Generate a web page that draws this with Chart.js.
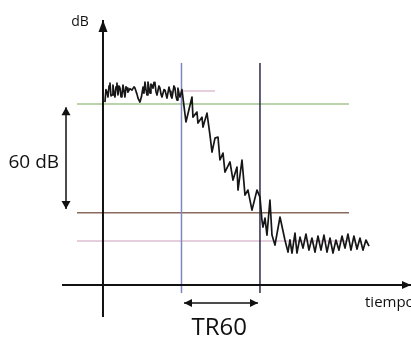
<!DOCTYPE html>
<html><head><meta charset="utf-8">
<style>html,body{margin:0;padding:0;background:#fff;overflow:hidden}#wrap{position:relative;width:411px;height:341px}</style>
<script src="https://cdn.jsdelivr.net/npm/chart.js@4.4.1/dist/chart.umd.min.js"></script>
</head><body><div id="wrap"><canvas id="c" width="411" height="341"></canvas></div>
<script>
// ---- data (time in s, level in dB) ----
const signalTime = [0.025,0.038,0.051,0.064,0.077,0.089,0.102,0.115,0.127,0.140,0.153,0.166,0.178,0.191,0.204,0.217,0.230,0.242,0.255,0.268,0.280,0.293,0.306,0.318,0.344,0.369,0.395,0.408,0.433,0.446,0.471,0.490,0.510,0.522,0.535,0.548,0.561,0.573,0.586,0.599,0.611,0.624,0.637,0.650,0.662,0.675,0.688,0.713,0.726,0.739,0.752,0.777,0.790,0.815,0.841,0.854,0.866,0.879,0.904,0.917,0.930,0.943,0.955,0.968,0.981,1.006,
  1.057,1.134,1.146,1.197,1.210,1.261,1.274,1.325,1.363,1.389,1.427,1.465,1.490,1.529,1.554,1.618,1.656,1.707,1.720,1.771,1.809,1.847,1.898,1.962,2.000,2.025,
  2.038,2.064,2.089,2.127,2.153,2.191,2.255,2.318,2.357,2.382,2.408,2.446,2.471,2.510,2.548,2.586,2.624,2.662,2.701,2.739,2.777,2.815,2.854,2.892,2.930,2.968,3.006,3.045,3.083,3.121,3.159,3.197,3.236,3.274,3.312,3.350,3.389];
const signalLevel = [101.1,108.0,106.6,103.9,110.0,111.6,104.5,105.0,110.5,106.0,103.9,109.5,111.6,105.0,110.0,108.8,104.0,105.0,110.5,107.0,103.9,109.5,108.8,106.6,108.5,107.7,109.5,108.8,105.5,103.3,101.1,104.0,109.4,106.0,112.2,108.0,105.0,112.2,109.0,106.1,111.0,110.5,108.8,112.0,111.6,107.0,105.0,110.0,108.8,105.5,103.9,108.0,107.7,103.3,109.4,107.0,104.5,103.3,110.0,108.8,104.5,102.2,108.8,106.0,103.9,108.0,
  90.1,103.9,92.8,95.6,89.5,92.8,87.3,95.0,82.9,73.5,81.2,81.8,69.1,72.9,62.4,68.0,58.0,65.2,52.5,69.1,49.7,52.5,41.4,52.5,48.6,35.9,
  32.0,37.0,27.6,47.0,27.6,22.1,37.6,24.9,18.2,25.0,17.7,28.7,17.7,26.5,20.4,28.2,19.3,26.0,18.2,27.1,19.3,27.6,18.2,26.0,17.7,24.9,19.3,27.1,20.4,28.2,19.3,27.1,19.9,26.0,19.3,24.9,21.5];
const refLevels = [100, 40, 24.3];          // start level, -60 dB level, noise level
const refTimes = [-0.331, 3.134];
const startMarkLevel = 107.2;
const startMarkTimes = [1.0, 1.427];
const decayTimes = [1.0, 2.0];              // start and end of TR60
const decayMarkLevels = [-4.4, 122.7];
const axisTimes = [-0.522, 3.924];
const axisLevels = [-17.7, 146.4];
const spanArrowTime = -0.471;
const spanArrowLevels = [98.3, 42.0];
const trArrowLevel = -9.9;
const trArrowTimes = [1.032, 1.975];
const labelTexts = ['dB', '60 dB', 'tiempo', 'TR60'];

// ---- datasets ----
const pts = (xs, ys) => xs.map((x, i) => ({x, y: ys[i]}));
const refColors = ['#a3c48e', '#8a6a5c', '#dcbfd2'];
const datasets = [];
refLevels.forEach((lv, i) => datasets.push({data: pts(refTimes, [lv, lv]), borderColor: refColors[i], borderWidth: 1.5, order: 5}));
datasets.push({data: pts(startMarkTimes, [startMarkLevel, startMarkLevel]), borderColor: '#dcbfd2', borderWidth: 1.5, order: 5});
datasets.push({data: pts([decayTimes[0], decayTimes[0]], decayMarkLevels), borderColor: '#7f86c4', borderWidth: 1.5, order: 4});
datasets.push({data: pts([decayTimes[1], decayTimes[1]], decayMarkLevels), borderColor: '#2a2c48', borderWidth: 1.5, order: 4});
datasets.push({data: pts(signalTime, signalLevel), borderColor: '#161616', borderWidth: 1.7, borderJoinStyle: 'round', order: 2});
datasets.push({data: pts(axisTimes, [0, 0]), borderColor: '#111', borderWidth: 2, order: 1, arrow: {end: true, len: 9, w: 8}});
datasets.push({data: pts([0, 0], axisLevels), borderColor: '#111', borderWidth: 2, order: 1, arrow: {end: true, len: 12, w: 9}});
datasets.push({data: pts([spanArrowTime, spanArrowTime], spanArrowLevels), borderColor: '#111', borderWidth: 1.5, order: 1, arrow: {start: true, end: true, len: 8, w: 9}});
datasets.push({data: pts(trArrowTimes, [trArrowLevel, trArrowLevel]), borderColor: '#111', borderWidth: 1.5, order: 1, arrow: {start: true, end: true, len: 8, w: 8}});
datasets.forEach(d => { d.pointRadius = 0; d.tension = 0; d.fill = false; d.showLine = true; });

function head(ctx, tip, from, len, w, color) {
  const a = Math.atan2(tip.y - from.y, tip.x - from.x);
  ctx.save(); ctx.fillStyle = color; ctx.beginPath();
  ctx.moveTo(tip.x, tip.y);
  ctx.lineTo(tip.x - len * Math.cos(a) + (w / 2) * Math.sin(a), tip.y - len * Math.sin(a) - (w / 2) * Math.cos(a));
  ctx.lineTo(tip.x - len * Math.cos(a) - (w / 2) * Math.sin(a), tip.y - len * Math.sin(a) + (w / 2) * Math.cos(a));
  ctx.closePath(); ctx.fill(); ctx.restore();
}
const arrowPlugin = {
  id: 'arrows',
  afterDatasetsDraw(chart) {
    const ctx = chart.ctx;
    chart.data.datasets.forEach((ds, i) => {
      if (!ds.arrow) return;
      const p = chart.getDatasetMeta(i).data;
      const a = p[0], b = p[p.length - 1];
      if (ds.arrow.end) head(ctx, b, a, ds.arrow.len, ds.arrow.w, ds.borderColor);
      if (ds.arrow.start) head(ctx, a, b, ds.arrow.len, ds.arrow.w, ds.borderColor);
    });
  }
};
const labelPlugin = {
  id: 'labels',
  afterDatasetsDraw(chart, args, opts) {
    const ctx = chart.ctx, xs = chart.scales.x, ys = chart.scales.y;
    opts.items.forEach(it => {
      ctx.save();
      ctx.font = it.font; ctx.fillStyle = '#111';
      ctx.textAlign = it.align; ctx.textBaseline = 'middle';
      ctx.fillText(it.text, xs.getPixelForValue(it.x), ys.getPixelForValue(it.y));
      ctx.restore();
    });
  }
};

new Chart(document.getElementById('c'), {
  type: 'scatter',
  data: {datasets},
  options: {
    responsive: false, animation: false, devicePixelRatio: 1, events: [],
    layout: {padding: 0},
    scales: {
      x: {type: 'linear', min: -1.312, max: 3.924, display: false},
      y: {type: 'linear', min: -30.9, max: 157.5, display: false}
    },
    plugins: {
      legend: {display: false}, tooltip: {enabled: false},
      labels: {items: [
        {text: labelTexts[0], x: -0.293, y: 145.3, font: '14px "Open Sans"', align: 'center'},
        {text: labelTexts[1], x: -0.56, y: 67.5, font: '19px "Open Sans"', align: 'right'},
        {text: labelTexts[2], x: 3.338, y: -9.6, font: '15px "Open Sans"', align: 'left'},
        {text: labelTexts[3], x: 1.48, y: -23.8, font: '24px "Open Sans"', align: 'center'}
      ]}
    }
  },
  plugins: [arrowPlugin, labelPlugin]
});
</script></body></html>
